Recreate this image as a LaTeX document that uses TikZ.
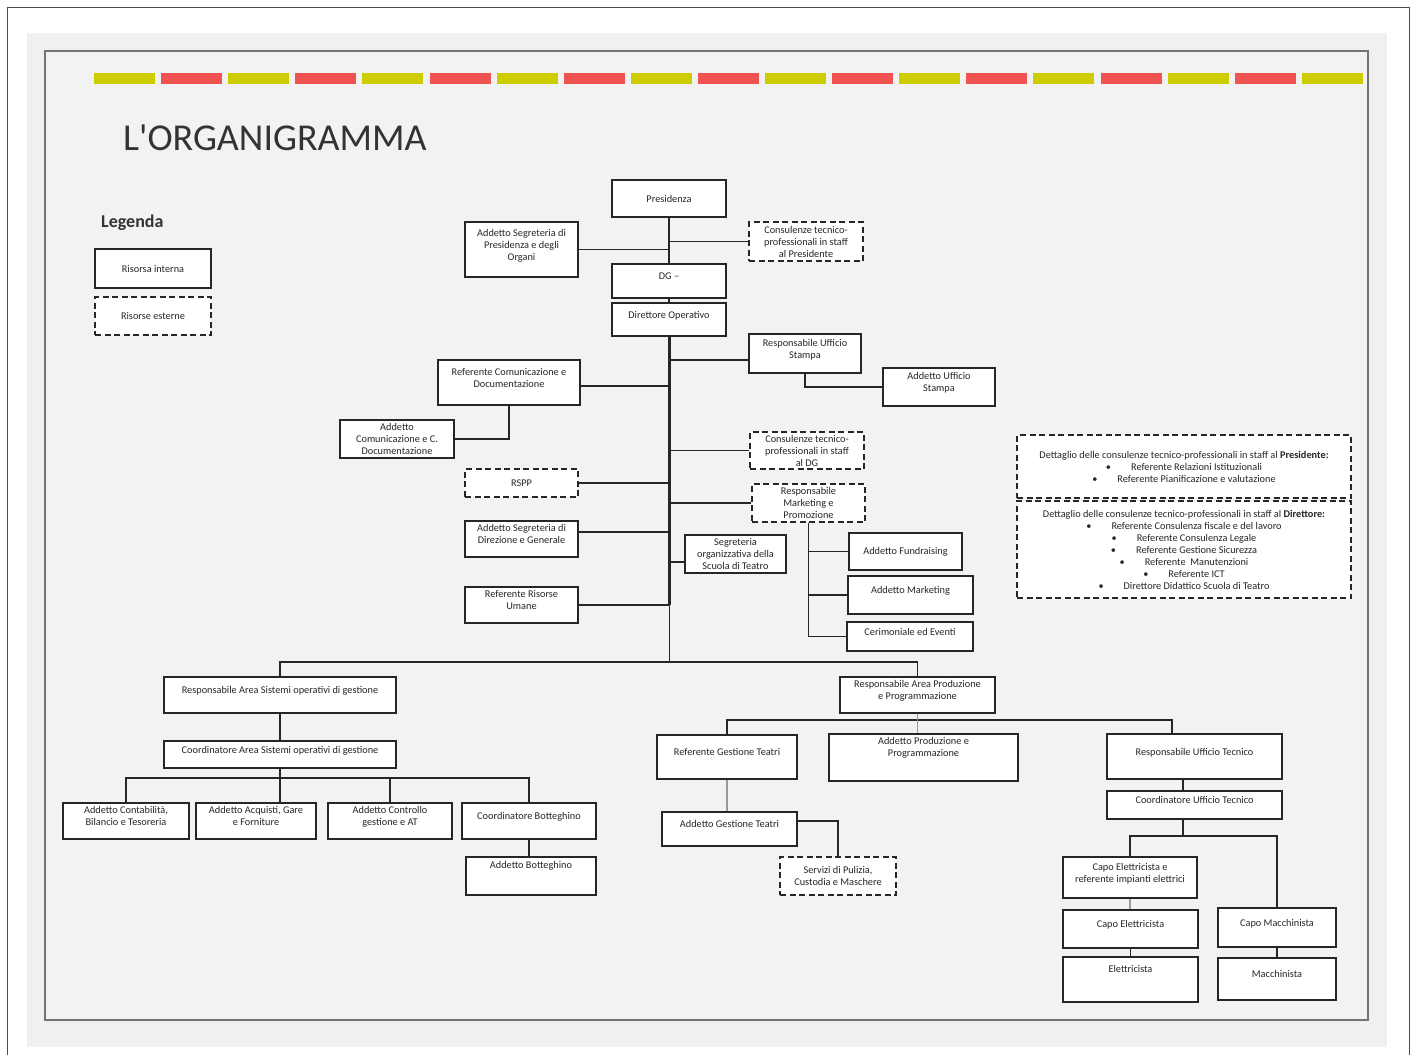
\documentclass[tikz,border=0pt]{standalone}
\usepackage{fontspec}
\setmainfont{Carlito}
\definecolor{stripeyellow}{RGB}{204,204,0}
\definecolor{stripered}{RGB}{240,82,82}
\definecolor{panel}{RGB}{240,240,240}
\definecolor{sheet}{RGB}{242,242,242}
\newcommand{\lifttext}{\\[-2pt]\mbox{}}
\newcommand{\liftmore}{\\[-1pt]\mbox{}\\[-1pt]\mbox{}}

\begin{document}
\begin{tikzpicture}[x=1pt,y=-1pt,
  interna/.style={draw=black!85, line width=1.25pt, fill=white, align=center,
    inner sep=1pt, text=black!85, font=\fontsize{10.3}{12}\selectfont},
  esterna/.style={interna, dash pattern=on 6pt off 3.5pt},
  wh/.style 2 args={minimum width=#1, minimum height=#2},
  link/.style={draw=black!85, line width=1.2pt},
  softlink/.style={draw=black!40, line width=1.2pt}]
  \useasboundingbox (0,0) rectangle (1416,1055);
  % Page, panel and frame
  \fill[white] (0,0) rectangle (1416,1055);
  \draw[black!70, line width=1pt] (7,1055) -- (7,7) -- (1409,7) -- (1409,1055);
  \fill[panel] (27,33) rectangle (1387,1047);
  \draw[black!55, line width=1.5pt, fill=sheet] (45,51) rectangle (1368,1020);
  % Coloured stripe
  \foreach \i in {0,2,...,18}
    \fill[stripeyellow] (94+\i*67.1,73) rectangle ++(61,11);
  \foreach \i in {1,3,...,17}
    \fill[stripered] (94+\i*67.1,73) rectangle ++(61,11);
  % Title and legend
  \node[anchor=west, inner sep=0pt, text=black!80, font=\fontsize{38}{44}\selectfont]
    (title) at (123,137.5) {L\textquotesingle ORGANIGRAMMA};
  \node[anchor=west, inner sep=0pt, text=black!80, font=\bfseries\fontsize{18}{22}\selectfont]
    (legenda) at (101,223) {Legenda};
  \node[interna, wh={116}{39}] (leginterna) at (153,268.5) {Risorsa interna};
  \node[esterna, wh={116}{38}] (legesterna) at (153,316) {Risorse esterne};

  % Top of the chart
  \node[interna, wh={114}{37}] (pres) at (669,198.5) {Presidenza};
  \node[interna, wh={113}{55}] (segpres) at (521.5,249.5)
    {Addetto Segreteria di\\Presidenza e degli\\Organi\lifttext};
  \node[esterna, wh={114}{39}] (conspres) at (806,241.5)
    {Consulenze tecnico-\\professionali in staff\\al Presidente};
  \node[interna, wh={114}{34}] (dg) at (669,281) {DG --\lifttext};
  \node[interna, wh={114}{33}] (dop) at (669,319.5) {Direttore Operativo\lifttext};
  % Staff of the director
  \node[interna, wh={112}{39}] (ustampa) at (805,353.5) {Responsabile Ufficio\\Stampa\lifttext};
  \node[interna, wh={112}{38}] (addstampa) at (939,387) {Addetto Ufficio\\Stampa\lifttext};
  \node[interna, wh={142}{45}] (refcom) at (509,382.5) {Referente Comunicazione e\\Documentazione\lifttext};
  \node[interna, wh={114}{38}] (addcom) at (397,439) {Addetto\\Comunicazione e C.\\Documentazione};
  \node[esterna, wh={114}{37}] (consdg) at (807,450.5)
    {Consulenze tecnico-\\professionali in staff\\al DG};
  \node[esterna, wh={113}{28}] (rspp) at (521.5,483) {RSPP};
  \node[esterna, wh={113}{38}] (mkt) at (808.5,503) {Responsabile\\Marketing e\\Promozione};
  \node[interna, wh={113}{36}] (segdir) at (521.5,539) {Addetto Segreteria di\\Direzione e Generale\lifttext};
  \node[interna, wh={101}{38}] (scuola) at (735.5,554) {Segreteria\\organizzativa della\\Scuola di Teatro};
  \node[interna, wh={113}{36}] (risorse) at (521.5,605) {Referente Risorse\\Umane\lifttext};
  \node[interna, wh={113}{37}] (fund) at (905.5,551.5) {Addetto Fundraising};
  \node[interna, wh={125}{38}] (addmkt) at (910.5,595) {Addetto Marketing\lifttext};
  \node[interna, wh={126}{29}] (cerim) at (910,636.5) {Cerimoniale ed Eventi\lifttext};
  % Detail of the consultancies
  \node[esterna, wh={334}{63}] (det1) at (1184,466.5)
    {Dettaglio delle consulenze tecnico-professionali in staff al \textbf{Presidente:}\\
     \textbullet\hspace{20pt}Referente Relazioni Istituzionali\\
     \textbullet\hspace{20pt}Referente Pianificazione e valutazione};
  \node[esterna, wh={334}{97}] (det2) at (1184,549.5)
    {Dettaglio delle consulenze tecnico-professionali in staff al \textbf{Direttore:}\\
     \textbullet\hspace{20pt}Referente Consulenza fiscale e del lavoro\\
     \textbullet\hspace{20pt}Referente Consulenza Legale\\
     \textbullet\hspace{20pt}Referente Gestione Sicurezza\\
     \textbullet\hspace{20pt}Referente\ \ Manutenzioni\\
     \textbullet\hspace{20pt}Referente ICT\\
     \textbullet\hspace{20pt}Direttore Didattico Scuola di Teatro};

  % Area Sistemi operativi di gestione
  \node[interna, wh={232}{36}] (sistemi) at (280,695) {Responsabile Area Sistemi operativi di gestione\lifttext};
  \node[interna, wh={232}{27}] (coordarea) at (280,754.5) {Coordinatore Area Sistemi operativi di gestione\lifttext};
  \node[interna, wh={126}{36}] (contab) at (126,821) {Addetto Contabilità,\\Bilancio e Tesoreria\lifttext};
  \node[interna, wh={120}{36}] (acquisti) at (256,821) {Addetto Acquisti, Gare\\e Forniture\lifttext};
  \node[interna, wh={124}{36}] (controllo) at (390,821) {Addetto Controllo\\gestione e AT\lifttext};
  \node[interna, wh={134}{36}] (coordbott) at (529,821) {Coordinatore Botteghino\lifttext};
  \node[interna, wh={130}{38}] (addbott) at (531,876) {Addetto Botteghino\liftmore};
  % Area Produzione e Programmazione
  \node[interna, wh={155}{36}] (prod) at (917.5,695) {Responsabile Area Produzione\\e Programmazione\lifttext};
  \node[interna, wh={140}{44}] (teatri) at (727,757) {Referente Gestione Teatri\lifttext};
  \node[interna, wh={189}{47}] (addprod) at (923.5,757.5) {Addetto Produzione e\\Programmazione\liftmore};
  \node[interna, wh={135}{34}] (addgest) at (729.5,829) {Addetto Gestione Teatri\lifttext};
  \node[esterna, wh={116}{38}] (servizi) at (838,876) {Servizi di Pulizia,\\Custodia e Maschere};
  % Ufficio Tecnico
  \node[interna, wh={175}{45}] (ufftec) at (1194.5,756.5) {Responsabile Ufficio Tecnico\lifttext};
  \node[interna, wh={175}{28}] (coordtec) at (1194.5,805) {Coordinatore Ufficio Tecnico\lifttext};
  \node[interna, wh={134}{41}] (caporef) at (1130,877.5) {Capo Elettricista e\\referente impianti elettrici\lifttext};
  \node[interna, wh={135}{38}] (capoel) at (1130.5,929) {Capo Elettricista\lifttext};
  \node[interna, wh={135}{45}] (elett) at (1130.5,979.5) {Elettricista\liftmore};
  \node[interna, wh={118}{39}] (capomac) at (1277,927.5) {Capo Macchinista\lifttext};
  \node[interna, wh={118}{42}] (macch) at (1277,979) {Macchinista\lifttext};

  % Junctions
  \coordinate (spinebot) at (669,605);
  \coordinate (fork) at (669,662);
  \coordinate (lev3) at (280,778);
  \coordinate (lev2) at (917.5,720);
  \coordinate (lev4) at (1183,836);

  % Presidency line
  \draw[link] (pres.south) -- (dg.north);
  \draw[link] (dg.south) -- (dop.north);
  \draw[link] (segpres.east) -- (segpres.east -| pres.south);
  \draw[link] (conspres.west) -- (conspres.west -| pres.south);
  % Director spine and staff
  \draw[link, line width=3pt] (dop.south) -- (spinebot);
  \draw[link, line width=0.8pt] (spinebot) -- (fork);
  \draw[link] ([yshift=-6.5pt]ustampa.west) -- ([yshift=-6.5pt]ustampa.west -| dop.south);
  \draw[link] (ustampa.south) |- (addstampa.west);
  \draw[link] ([yshift=-3.5pt]refcom.east) -- ([yshift=-3.5pt]refcom.east -| dop.south);
  \draw[link] (addcom.east) -| (refcom.south);
  \draw[link] (consdg.west) -- (consdg.west -| dop.south);
  \draw[link] (rspp.east) -- (rspp.east -| dop.south);
  \draw[link] (mkt.west) -- (mkt.west -| dop.south);
  \draw[link] ([yshift=7pt]segdir.east) -- ([yshift=7pt]segdir.east -| dop.south);
  \draw[link] ([yshift=-8pt]scuola.west) -- ([yshift=-8pt]scuola.west -| dop.south);
  \draw[link] (risorse.east) -- (spinebot);
  \draw[link] (mkt.south) |- (fund.west);
  \draw[link] (mkt.south) |- (addmkt.west);
  \draw[link] (mkt.south) |- (cerim.west);
  % The two areas
  \draw[link] (sistemi.north) |- (fork) -| (prod.north);
  \draw[link] (sistemi.south) -- (coordarea.north);
  \draw[link] (contab.north) |- (lev3) -| (coordbott.north);
  \draw[link] (coordarea.south) -- (coordarea.south |- acquisti.north);
  \draw[link] (controllo.north) -- (controllo.north |- lev3);
  \draw[link] (coordbott.south) -- (coordbott.south |- addbott.north);
  \draw[link] (teatri.north) |- (lev2) -| ([xshift=-22.5pt]ufftec.north);
  \draw[softlink] (prod.south) -- (prod.south |- addprod.north);
  \draw[softlink] (teatri.south) -- (teatri.south |- addgest.north);
  \draw[link] ([yshift=8pt]addgest.east) -| (servizi.north);
  % Technical office
  \draw[link] ([xshift=-11.5pt]ufftec.south) -- ([xshift=-11.5pt]coordtec.north);
  \draw[link] ([xshift=-11.5pt]coordtec.south) -- (lev4);
  \draw[link] (caporef.north) |- (lev4) -| (capomac.north);
  \draw[softlink] (caporef.south) -- (caporef.south |- capoel.north);
  \draw[link] (capoel.south) -- (capoel.south |- elett.north);
  \draw[link] (capomac.south) -- (macch.north);
\end{tikzpicture}
\end{document}
